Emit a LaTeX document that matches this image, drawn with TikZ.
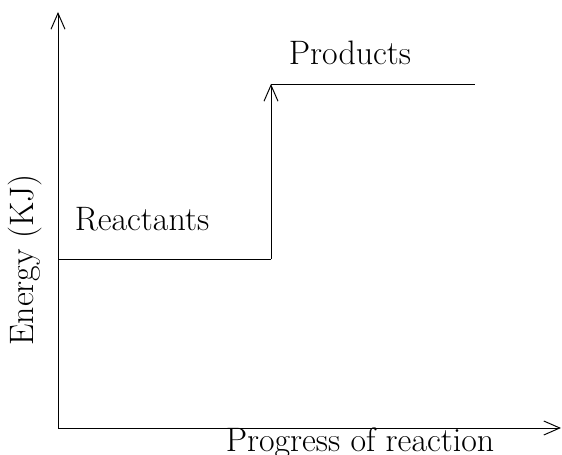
\documentclass[tikz,border=0pt]{standalone}
\usetikzlibrary{positioning,arrows.meta}

\begin{document}
\begin{tikzpicture}[x=0.02cm,y=-0.02cm,line width=0.55pt,
    >={Straight Barb[length=0.32cm,width=0.28cm]},
    lbl/.style={font=\fontsize{19.3}{23}\selectfont,inner sep=0pt,anchor=base}]
  \useasboundingbox (0,0) rectangle (562,455);
  \coordinate (O) at (58,428);
  \coordinate (ytop) at (58,12);
  \coordinate (xend) at (561,428);
  \coordinate (R0) at (58,259);
  \coordinate (R1) at (271,259);
  \coordinate (P0) at (271,84);
  \coordinate (P1) at (475,84);

  \node[lbl] (reac) at (142,231) {Reactants};
  \node[lbl] (prod) at (350,65) {Products};
  \node[lbl] (prog) at (360,452) {Progress of reaction};
  \node[lbl,rotate=90] (energy) at (33,260) {Energy (KJ)};

  \draw[->] (O) -- (ytop);
  \draw[->] (O) -- (xend);
  \draw (R0) -- (R1);
  \draw[->] (R1) -- (P0);
  \draw (P0) -- (P1);
\end{tikzpicture}
\end{document}
